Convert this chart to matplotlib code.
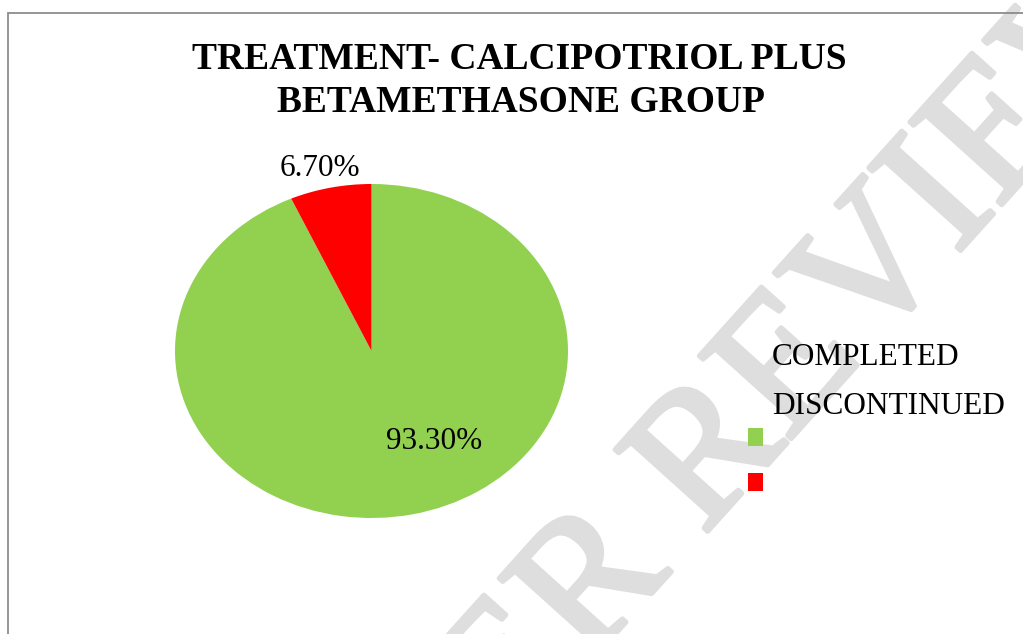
import matplotlib
matplotlib.use("Agg")
import matplotlib.pyplot as plt
import matplotlib.patheffects as pe
from matplotlib.patches import Rectangle


# ---------- Data ----------

categories = ["COMPLETED", "DISCONTINUED"]
shares = [93.3, 6.7]
share_labels = ["93.30%", "6.70%"]
slice_colors = ["#92D050", "#FF0000"]
title_lines = ["TREATMENT- CALCIPOTRIOL PLUS", "BETAMETHASONE GROUP"]

# label positions in pie data units (radius = 1)
label_pos = [(0.32, -0.54), (-0.26, 1.09)]

W, H = 1023, 634


def main():
    plt.rcParams["font.family"] = ["Liberation Serif", "DejaVu Serif"]
    fig = plt.figure(figsize=(W / 100, H / 100), dpi=100)

    # outer chart frame (cropped on right and bottom)
    fig.patches.append(Rectangle((8 / W, -0.1), 1.5, 1 - 12.5 / H + 0.1,
                                 transform=fig.transFigure, fill=False,
                                 edgecolor="#8c8c8c", linewidth=1.3))

    # watermark
    fig.text(745 / W, 1 - 422 / H, "PEER REVIEW", fontsize=136,
             color="#dedede", rotation=48, ha="center", va="center",
             rotation_mode="anchor", zorder=-1,
             path_effects=[pe.withStroke(linewidth=3.5, foreground="#dedede")])

    # ----- Pie -----
    ax = fig.add_axes([175 / W, 1 - 518 / H, 393 / W, 334 / H])
    ax.patch.set_visible(False)
    wedges, _ = ax.pie(shares, colors=slice_colors, startangle=90,
                       counterclock=False, radius=1,
                       wedgeprops=dict(linewidth=0))
    ax.set_aspect("auto")
    ax.set_xlim(-1, 1)
    ax.set_ylim(-1, 1)
    ax.axis("off")

    for (x, y), txt in zip(label_pos, share_labels):
        ax.text(x, y, txt, fontsize=22.5, ha="center", va="center",
                clip_on=False)

    # ----- Title -----
    fig.text(519 / W, 1 - 69 / H, title_lines[0], fontsize=27,
             fontweight="bold", ha="center", va="baseline")
    fig.text(521 / W, 1 - 112 / H, title_lines[1], fontsize=27,
             fontweight="bold", ha="center", va="baseline")

    # ----- Legend (keys sit below their labels, as in the source) -----
    leg = fig.legend(wedges, categories, loc="center left",
                     bbox_to_anchor=(732 / W, 1 - 463 / H), frameon=False,
                     fontsize=22.5, handlelength=0.5, handleheight=0.5,
                     labelspacing=0.52, borderpad=0, handletextpad=0.3)
    for t in leg.get_texts():
        t.set_color("none")
    for i, cat in enumerate(categories):
        fig.text(772 / W, 1 - (357 + 50 * i) / H, cat, fontsize=22.5,
                 ha="left", va="center")

    fig.savefig("out.png", dpi=100)
    plt.close(fig)


if __name__ == "__main__":
    main()
